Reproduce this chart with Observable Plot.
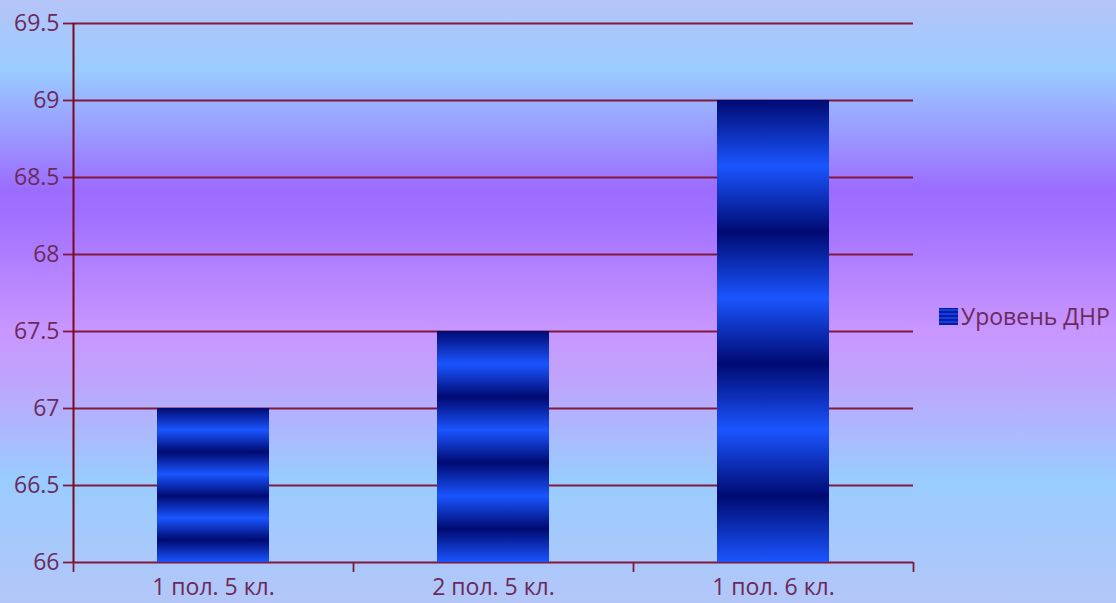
<!DOCTYPE html>
<html>
<head>
<meta charset="utf-8">
<script src="https://cdn.jsdelivr.net/npm/d3@7"></script>
<script src="https://cdn.jsdelivr.net/npm/@observablehq/plot@0.6"></script>
<style>
html, body { margin: 0; padding: 0; }
#wrap {
  position: relative; width: 1116px; height: 603px; overflow: hidden;
  font-family: "Open Sans", sans-serif;
  background: linear-gradient(to bottom, #b6c4f8 0px, #99ccff 70px, #9c6cff 190px, #a070ff 215px, #c896ff 330px, #bfa4fc 380px, #99ccff 480px, #b4c6f8 603px);
}
#legend { position: absolute; left: 939px; top: 300px; display: flex; align-items: center; font-size: 23px; color: #6b2a5a; white-space: nowrap; }
#legend .sw { width: 19px; height: 17px; margin-right: 3px;
  background: repeating-linear-gradient(to bottom, #000a80 0px, #1a50ff 2px, #000a80 4px); }
</style>
</head>
<body>
<div id="wrap"><div id="chart"></div><div id="legend"><span class="sw"></span><span id="legtext"></span></div></div>
<script>
const categories = ["1 пол. 5 кл.", "2 пол. 5 кл.", "1 пол. 6 кл."];
const values = [67, 67.5, 69];
const seriesName = "Уровень ДНР";
const yTicks = [66, 66.5, 67, 67.5, 68, 68.5, 69, 69.5];

const data = categories.map((c, i) => ({ i, category: c, value: values[i] }));
const boundaries = d3.range(categories.length + 1);
const centers = categories.map((c, i) => i + 0.5);

const gridColor = "#82193a";
const textColor = "#6b2a5a";

const svg = Plot.plot({
  width: 1116, height: 603,
  marginLeft: 73, marginRight: 203, marginTop: 23, marginBottom: 41,
  style: { background: "transparent", fontFamily: "Open Sans", fontSize: "23px", color: textColor },
  x: { type: "linear", domain: [0, categories.length], label: null },
  y: { domain: [66, 69.5], label: null },
  marks: [
    Plot.ruleY(yTicks, { stroke: gridColor, strokeWidth: 1.8 }),
    Plot.rect(data, { x1: "i", x2: d => d.i + 1, y1: 66, y2: "value", insetLeft: 84, insetRight: 84, fill: "url(#barGrad)" }),
    Plot.axisY({ ticks: yTicks, tickSize: 10, tickPadding: 4, tickFormat: d => String(d), stroke: gridColor, strokeWidth: 1.8, fill: textColor, label: null }),
    Plot.ruleX([0], { stroke: "#7a0a1a", strokeWidth: 2 }),
    Plot.axisX({ ticks: boundaries, tickSize: 10, tickFormat: () => "", stroke: gridColor, strokeWidth: 1.8, label: null }),
    Plot.axisX({ ticks: centers, tickSize: 0, tickPadding: 16, tickFormat: d => categories[Math.floor(d)], fill: textColor, label: null })
  ]
});

d3.select(svg).insert("defs", ":first-child").html(`
  <linearGradient id="barGrad" x1="0" y1="0" x2="0" y2="1">
    <stop offset="0" stop-color="#000a72"/>
    <stop offset="0.143" stop-color="#1a55ff"/>
    <stop offset="0.286" stop-color="#000a72"/>
    <stop offset="0.429" stop-color="#1a55ff"/>
    <stop offset="0.571" stop-color="#000a72"/>
    <stop offset="0.714" stop-color="#1a55ff"/>
    <stop offset="0.857" stop-color="#000a72"/>
    <stop offset="1" stop-color="#1a55ff"/>
  </linearGradient>`);

document.getElementById("chart").appendChild(svg);
document.getElementById("legtext").textContent = seriesName;
</script>
</body>
</html>
